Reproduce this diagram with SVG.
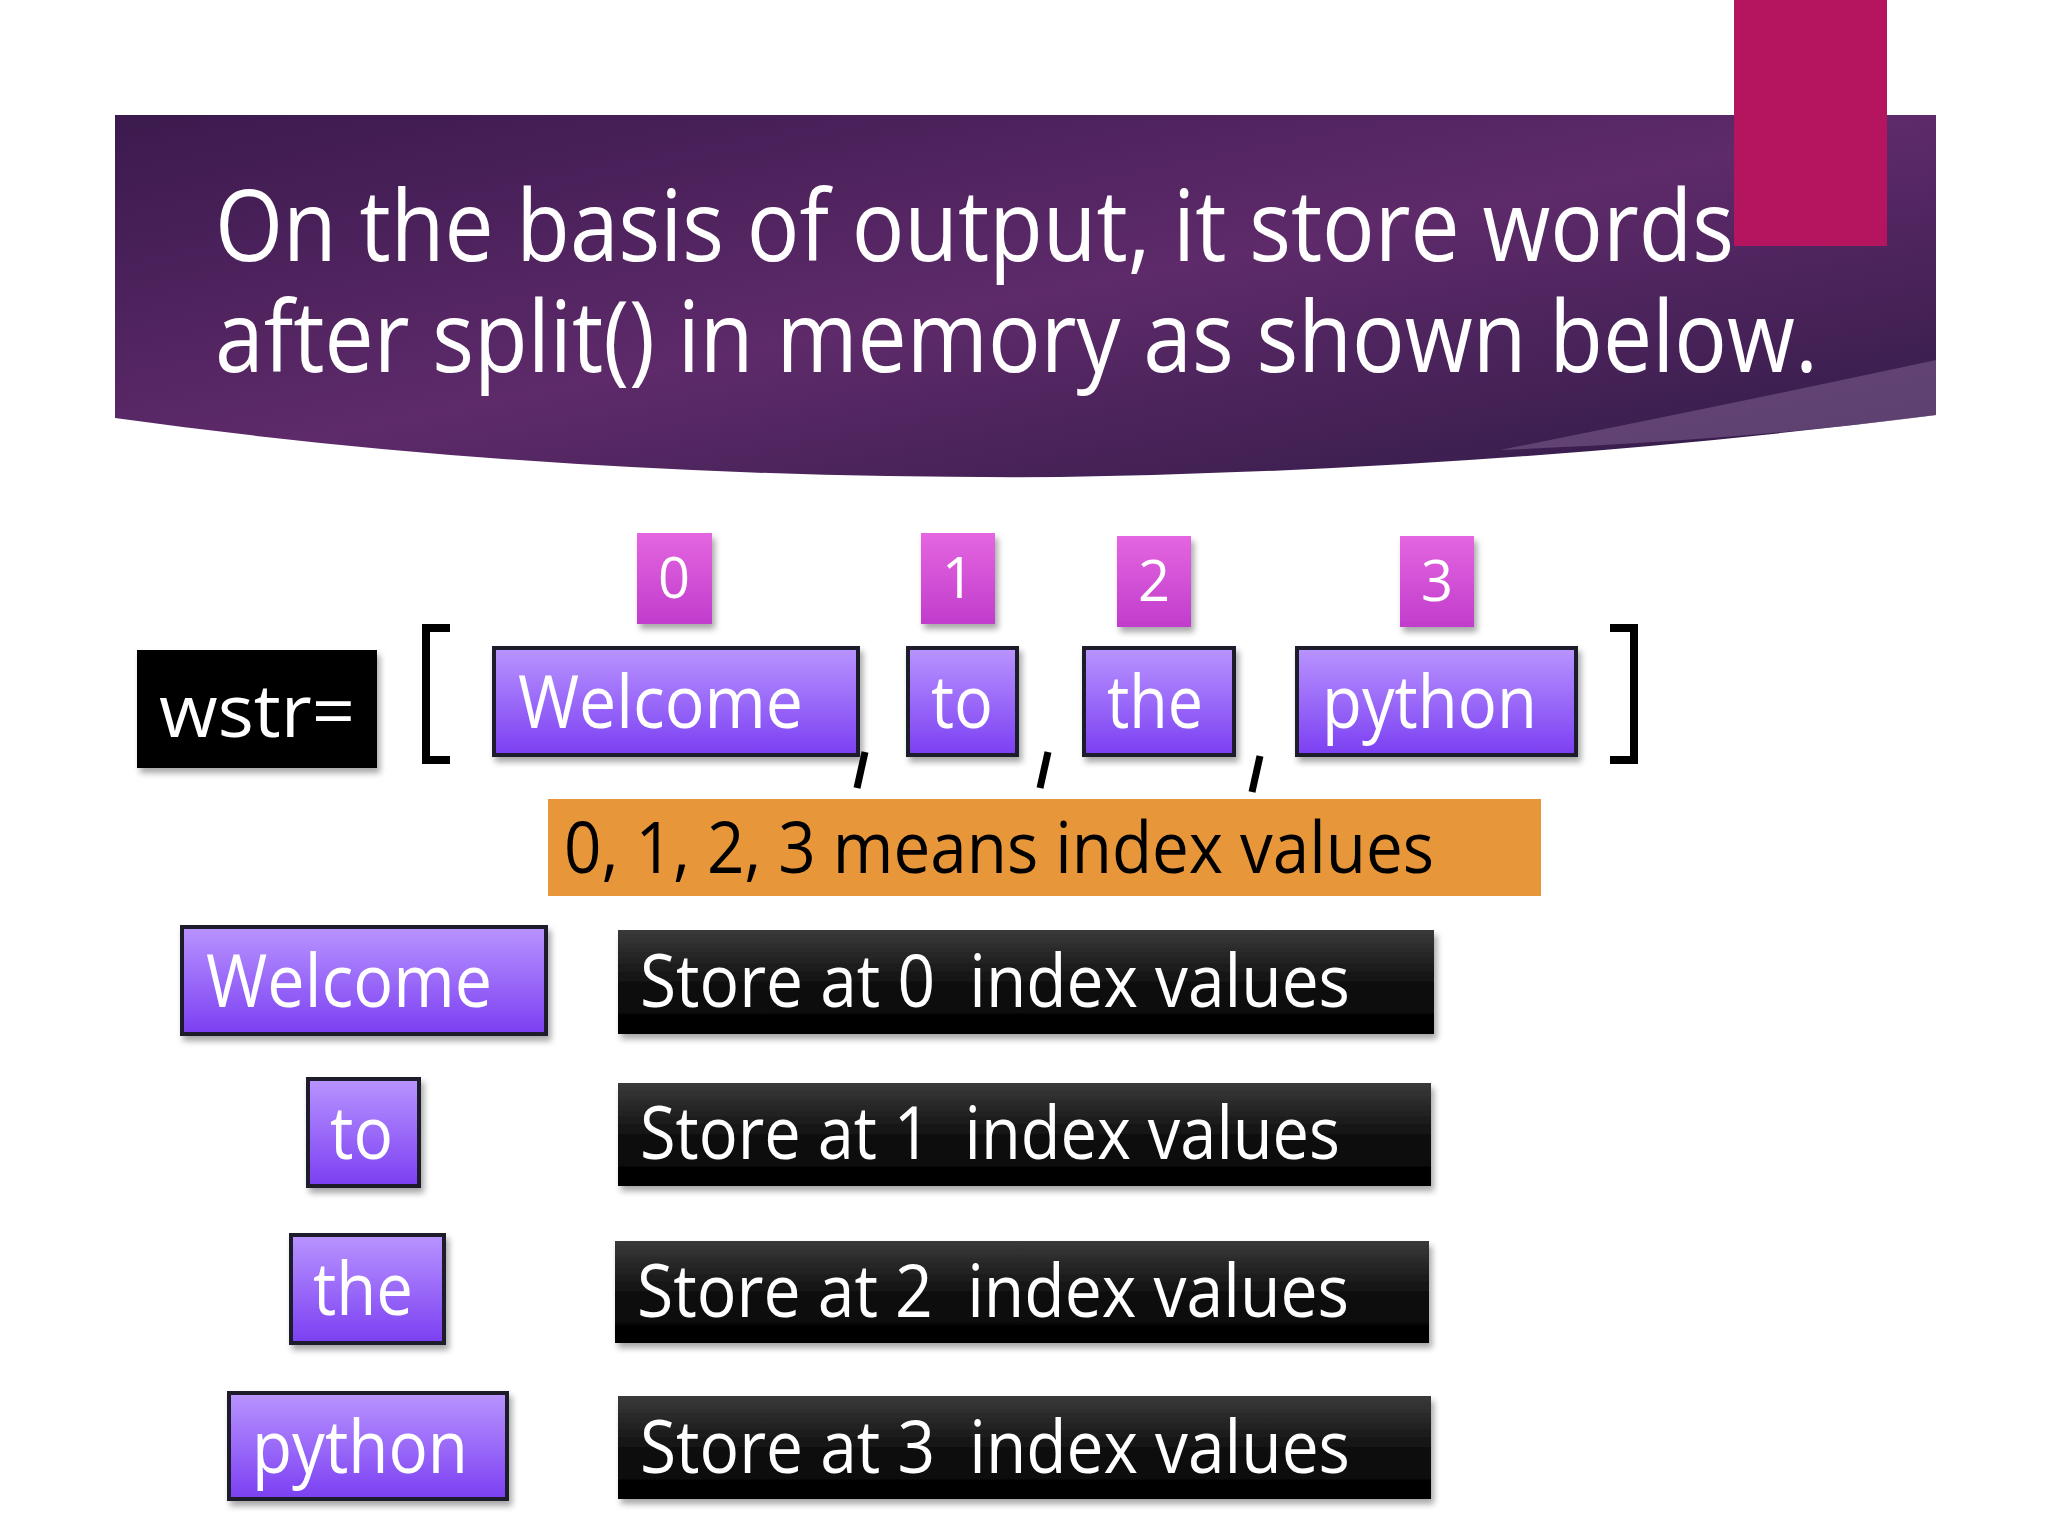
<svg xmlns="http://www.w3.org/2000/svg" width="2048" height="1536" viewBox="0 0 2048 1536">
<defs>
<linearGradient id="ban" x1="0" y1="0" x2="1" y2="1"><stop offset="0" stop-color="#3b1a4e"/><stop offset="0.5" stop-color="#5e2a6a"/><stop offset="1" stop-color="#2e1a45"/></linearGradient>
<linearGradient id="pur" x1="0" y1="0" x2="0" y2="1"><stop offset="0" stop-color="#b994ff"/><stop offset="1" stop-color="#7b3ff2"/></linearGradient>
<linearGradient id="pink" x1="0" y1="0" x2="0" y2="1"><stop offset="0" stop-color="#e466e0"/><stop offset="1" stop-color="#c13ccc"/></linearGradient>
<linearGradient id="blk" x1="0" y1="0" x2="0" y2="1"><stop offset="0" stop-color="#3a3a3a"/><stop offset="0.5" stop-color="#111"/><stop offset="1" stop-color="#000"/></linearGradient>
<filter id="sh" x="-10%" y="-10%" width="130%" height="140%"><feDropShadow dx="3" dy="5" stdDeviation="3" flood-opacity="0.35"/></filter>
</defs>
<style>
text{font-family:"Open Sans","Noto Sans","DejaVu Sans",sans-serif;white-space:pre}
.w{fill:#fff;font-size:74px}
.pb{fill:url(#pur);stroke:#1a1a2a;stroke-width:4;filter:url(#sh)}
.bb{fill:url(#blk);filter:url(#sh)}
.pk{fill:url(#pink);filter:url(#sh)}
.ix{fill:#fff;font-size:56px}
</style>
<rect width="2048" height="1536" fill="#fff"/>
<g id="banner">
<path d="M115 115 H1936 V415 Q1500 470 1060 477 Q560 480 115 418 Z" fill="url(#ban)"/>
<path d="M1500 450 Q1750 400 1936 360 V415 Q1750 440 1500 450 Z" fill="#7a5a8a" opacity="0.6"/>
<text x="215" y="261" fill="#fff" font-size="98" textLength="1519" lengthAdjust="spacingAndGlyphs">On the basis of output, it store words</text>
<text x="215" y="372" fill="#fff" font-size="98" textLength="1603" lengthAdjust="spacingAndGlyphs">after split() in memory as shown below.</text>
<rect x="1734" y="0" width="153" height="246" fill="#b5145e"/>
</g>
<g id="wstr"><rect x="137" y="650" width="240" height="118" fill="#000" filter="url(#sh)"/><text x="159" y="737" class="w" font-size="78" textLength="196" lengthAdjust="spacingAndGlyphs">wstr=</text></g>
<g id="brackets" fill="none" stroke="#000" stroke-width="8">
<path d="M450 628 H426 V760 H450"/><path d="M1610 628 H1634 V760 H1610"/>
</g>
<g id="commas" stroke="#000" stroke-width="7">
<line x1="865" y1="752" x2="857" y2="788"/><line x1="1048" y1="752" x2="1040" y2="788"/><line x1="1260" y1="756" x2="1252" y2="792"/>
</g>
<g id="w0"><rect class="pb" x="494" y="648" width="364" height="107"/><text x="518" y="728" class="w" textLength="285" lengthAdjust="spacingAndGlyphs">Welcome</text></g>
<g id="w1"><rect class="pb" x="908" y="648" width="109" height="107"/><text x="931" y="728" class="w" textLength="62" lengthAdjust="spacingAndGlyphs">to</text></g>
<g id="w2"><rect class="pb" x="1084" y="648" width="150" height="107"/><text x="1107" y="728" class="w" textLength="96" lengthAdjust="spacingAndGlyphs">the</text></g>
<g id="w3"><rect class="pb" x="1297" y="648" width="279" height="107"/><text x="1322" y="728" class="w" textLength="215" lengthAdjust="spacingAndGlyphs">python</text></g>
<g id="i0"><rect class="pk" x="637" y="533" width="75" height="91"/><text x="674" y="598" class="ix" text-anchor="middle">0</text></g>
<g id="i1"><rect class="pk" x="921" y="533" width="74" height="91"/><text x="958" y="598" class="ix" text-anchor="middle">1</text></g>
<g id="i2"><rect class="pk" x="1117" y="536" width="74" height="91"/><text x="1154" y="601" class="ix" text-anchor="middle">2</text></g>
<g id="i3"><rect class="pk" x="1400" y="536" width="74" height="91"/><text x="1437" y="601" class="ix" text-anchor="middle">3</text></g>
<g id="note"><rect x="548" y="799" width="993" height="97" fill="#e8963a"/><text x="564" y="873" font-size="72" fill="#000" textLength="870" lengthAdjust="spacingAndGlyphs">0, 1, 2, 3 means index values</text></g>
<g id="l0"><rect class="pb" x="182" y="927" width="364" height="107"/><text x="206" y="1007" class="w" textLength="286" lengthAdjust="spacingAndGlyphs">Welcome</text></g>
<g id="l1"><rect class="pb" x="308" y="1079" width="111" height="107"/><text x="330" y="1159" class="w" textLength="63" lengthAdjust="spacingAndGlyphs">to</text></g>
<g id="l2"><rect class="pb" x="291" y="1235" width="153" height="108"/><text x="313" y="1315" class="w" textLength="100" lengthAdjust="spacingAndGlyphs">the</text></g>
<g id="l3"><rect class="pb" x="229" y="1393" width="278" height="106"/><text x="252" y="1473" class="w" textLength="216" lengthAdjust="spacingAndGlyphs">python</text></g>
<g id="s0"><rect class="bb" x="618" y="930" width="816" height="104"/><text x="640" y="1007" class="w" textLength="710" lengthAdjust="spacingAndGlyphs">Store at 0  index values</text></g>
<g id="s1"><rect class="bb" x="618" y="1083" width="813" height="103"/><text x="640" y="1159" class="w" textLength="700" lengthAdjust="spacingAndGlyphs">Store at 1  index values</text></g>
<g id="s2"><rect class="bb" x="615" y="1241" width="814" height="102"/><text x="637" y="1317" class="w" textLength="712" lengthAdjust="spacingAndGlyphs">Store at 2  index values</text></g>
<g id="s3"><rect class="bb" x="618" y="1396" width="813" height="103"/><text x="640" y="1473" class="w" textLength="710" lengthAdjust="spacingAndGlyphs">Store at 3  index values</text></g>
</svg>
